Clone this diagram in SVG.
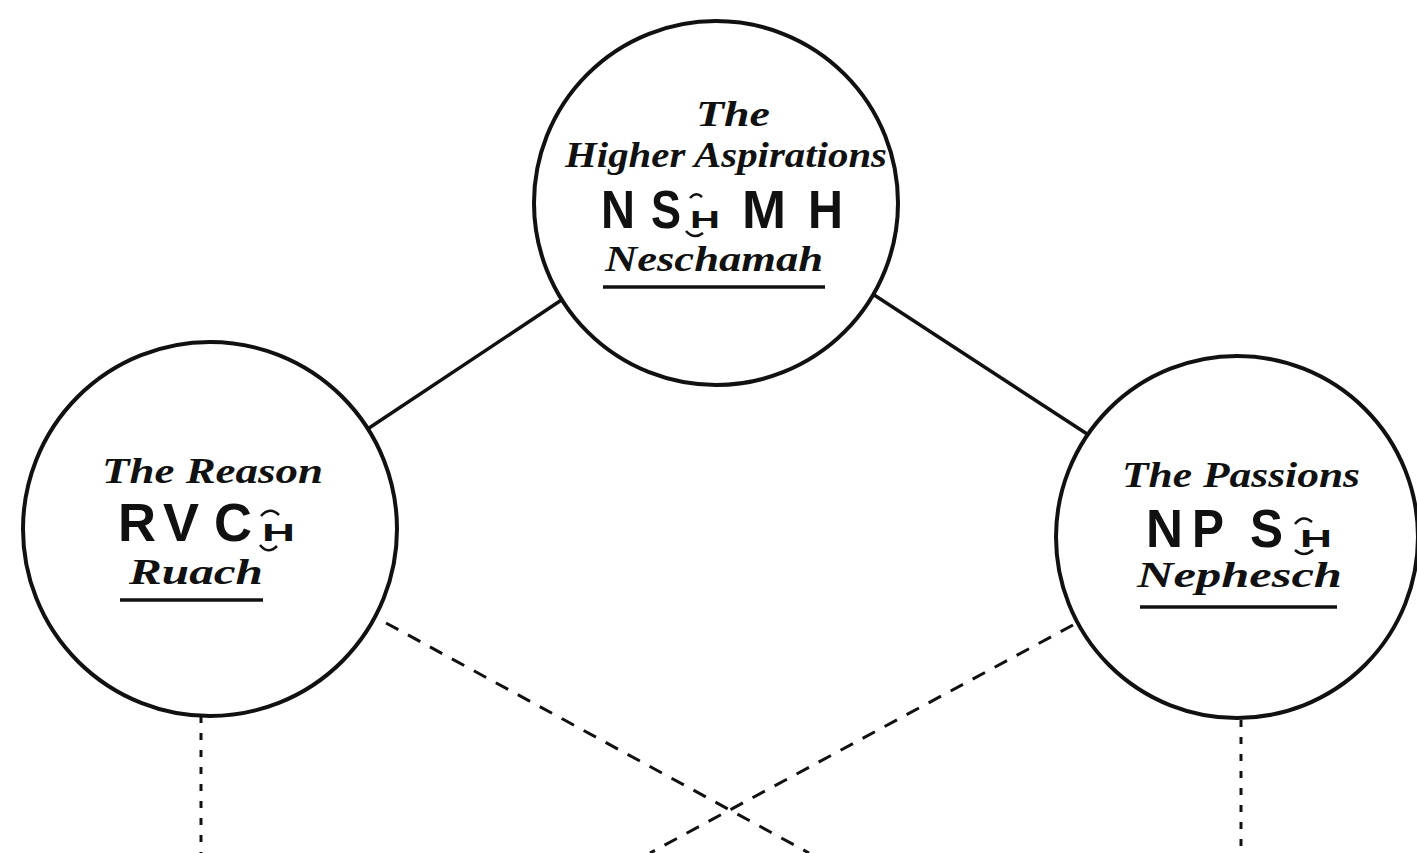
<svg xmlns="http://www.w3.org/2000/svg" width="1417" height="853" viewBox="0 0 1417 853">
<style>
.bg{fill:#ffffff}
.node{fill:#ffffff;stroke:#111;stroke-width:4}
.solid{stroke:#111;stroke-width:3.5;fill:none}
.dash{stroke:#111;stroke-width:3;fill:none;stroke-dasharray:14 11}
.vdash{stroke:#111;stroke-width:3;fill:none;stroke-dasharray:7 10}
.it{font-family:"Liberation Serif",serif;font-style:italic;font-weight:bold;font-size:36px;fill:#111}
.cap{font-family:"Liberation Sans",Arial,sans-serif;font-weight:bold;font-size:54px;fill:#111}
.sm{font-family:"Liberation Sans",Arial,sans-serif;font-weight:bold;font-size:24px;fill:#111}
.ul{stroke:#111;stroke-width:3.5}
.tie{stroke:#111;stroke-width:2.5;fill:none}
</style>
<rect class="bg" x="0" y="0" width="1417" height="853"/>
<g id="connectors">
<line class="solid" x1="578" y1="289" x2="351" y2="440"/>
<line class="solid" x1="865" y1="289" x2="1104" y2="445"/>
<line class="dash" x1="386" y1="623" x2="809" y2="853"/>
<line class="dash" x1="1073" y1="625" x2="650" y2="853"/>
<line class="vdash" x1="201" y1="716" x2="201" y2="853"/>
<line class="vdash" x1="1241" y1="720" x2="1241" y2="853"/>
</g>
<g id="neschamah">
<circle class="node" cx="716" cy="203" r="182"/>
<text class="it" x="696" y="126" textLength="74" lengthAdjust="spacingAndGlyphs">The</text>
<text class="it" x="565" y="167" textLength="322" lengthAdjust="spacingAndGlyphs">Higher Aspirations</text>
<text class="cap" x="601" y="228" textLength="34" lengthAdjust="spacingAndGlyphs">N</text>
<text class="cap" x="651" y="228" textLength="30" lengthAdjust="spacingAndGlyphs">S</text>
<text class="sm" x="690" y="228" textLength="30" lengthAdjust="spacingAndGlyphs">H</text>
<path class="tie" d="M690 198 Q696 191 702 197"/>
<path class="tie" d="M686 231 Q694 240 703 233"/>
<text class="cap" x="742" y="228" textLength="44" lengthAdjust="spacingAndGlyphs">M</text>
<text class="cap" x="808" y="228" textLength="35" lengthAdjust="spacingAndGlyphs">H</text>
<text class="it" x="605" y="271" textLength="218" lengthAdjust="spacingAndGlyphs">Neschamah</text>
<line class="ul" x1="603" y1="287" x2="825" y2="287"/>
</g>
<g id="ruach">
<circle class="node" cx="210" cy="529" r="187"/>
<text class="it" x="102" y="483" textLength="221" lengthAdjust="spacingAndGlyphs">The Reason</text>
<text class="cap" x="118" y="541" textLength="38" lengthAdjust="spacingAndGlyphs">R</text>
<text class="cap" x="163" y="541" textLength="36" lengthAdjust="spacingAndGlyphs">V</text>
<text class="cap" x="214" y="541" textLength="38" lengthAdjust="spacingAndGlyphs">C</text>
<text class="sm" x="262" y="541" textLength="33" lengthAdjust="spacingAndGlyphs">H</text>
<path class="tie" d="M261 516 Q270 506 279 515"/>
<path class="tie" d="M260 545 Q268 555 277 546"/>
<text class="it" x="129" y="584" textLength="134" lengthAdjust="spacingAndGlyphs">Ruach</text>
<line class="ul" x1="120" y1="600" x2="263" y2="600"/>
</g>
<g id="nephesch">
<circle class="node" cx="1237" cy="537" r="181"/>
<text class="it" x="1122" y="487" textLength="238" lengthAdjust="spacingAndGlyphs">The Passions</text>
<text class="cap" x="1146" y="547" textLength="37" lengthAdjust="spacingAndGlyphs">N</text>
<text class="cap" x="1192" y="547" textLength="32" lengthAdjust="spacingAndGlyphs">P</text>
<text class="cap" x="1250" y="547" textLength="33" lengthAdjust="spacingAndGlyphs">S</text>
<text class="sm" x="1300" y="547" textLength="32" lengthAdjust="spacingAndGlyphs">H</text>
<path class="tie" d="M1295 524 Q1303 514 1312 522"/>
<path class="tie" d="M1295 550 Q1304 558 1313 550"/>
<text class="it" x="1137" y="587" textLength="205" lengthAdjust="spacingAndGlyphs">Nephesch</text>
<line class="ul" x1="1140" y1="607" x2="1337" y2="607"/>
</g>
</svg>
